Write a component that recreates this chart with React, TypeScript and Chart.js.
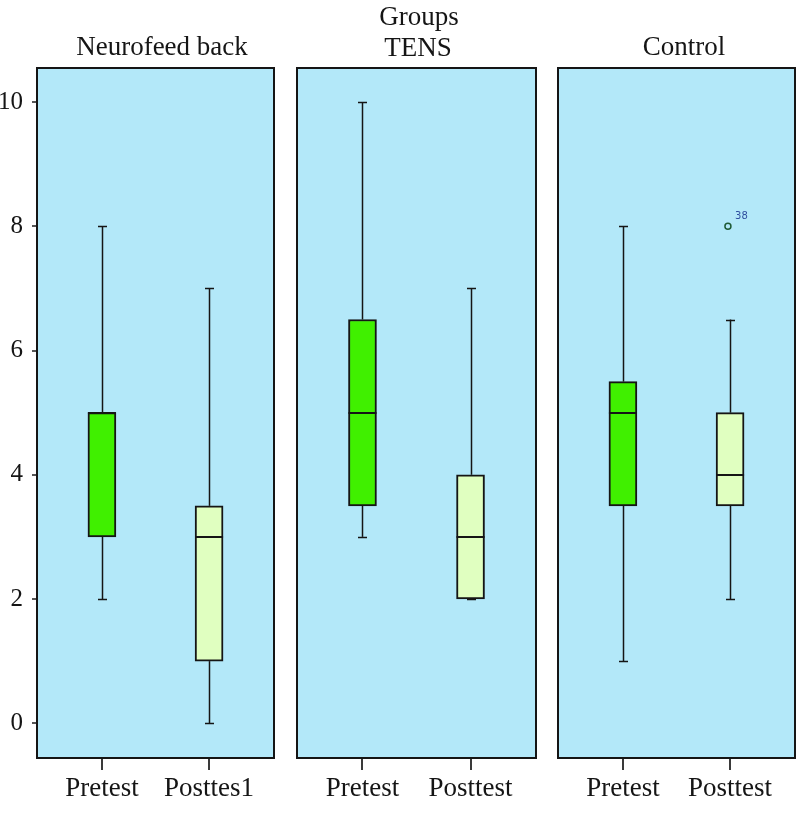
import React, { useEffect, useRef } from "react";
import { Chart, registerables } from "chart.js";
Chart.register(...registerables);

// ---- data ----
const superTitle = "Groups";
const groupTitles = ["Neurofeed back", "TENS", "Control"];
const conditionLabels = [
  ["Pretest", "Posttes1"],
  ["Pretest", "Posttest"],
  ["Pretest", "Posttest"],
];
const whiskerLow = [[2, 0], [3, 2], [1, 2]];
const q1 = [[3, 1], [3.5, 2], [3.5, 3.5]];
const medians = [[5, 3], [5, 3], [5, 4]];
const q3 = [[5, 3.5], [6.5, 4], [5.5, 5]];
const whiskerHigh = [[8, 7], [10, 7], [8, 6.5]];
const outlierGroup = [2];
const outlierCond = [1];
const outlierValue = [8];
const outlierLabel = ["38"];
const yTicks = [0, 2, 4, 6, 8, 10];

// ---- style ----
const FONT = "'Liberation Serif', 'Times New Roman', serif";
const BG = "#b3e8f9";
const BOX_COLORS = ["#40f000", "#e0ffc0"];
const INK = "#151515";

const panels = [
  { left: 0, width: 285, padL: 0, padR: 11, showY: true },
  { left: 285, width: 262, padL: 12, padR: 11, showY: false },
  { left: 547, width: 258, padL: 11, padR: 10, showY: false },
];

const boxPlugin = {
  id: "boxplot",
  beforeDraw(chart: any) {
    const { ctx, chartArea: a } = chart;
    ctx.save();
    ctx.fillStyle = BG;
    ctx.fillRect(a.left, a.top, a.right - a.left, a.bottom - a.top);
    ctx.restore();
  },
  beforeDatasetsDraw(chart: any) {
    const g = chart.options.plugins.boxplot.group;
    const { ctx, scales } = chart;
    const x = scales.x, y = scales.y;
    ctx.save();
    ctx.strokeStyle = INK;
    ctx.lineWidth = 1.5;
    for (let i = 0; i < 2; i++) {
      const cx = Math.round(x.getPixelForValue(i)) + 0.5;
      const segs = [
        [whiskerLow[g][i], q1[g][i]],
        [q3[g][i], whiskerHigh[g][i]],
      ];
      for (const [a, b] of segs) {
        if (a === b) continue;
        ctx.beginPath();
        ctx.moveTo(cx, y.getPixelForValue(a));
        ctx.lineTo(cx, y.getPixelForValue(b));
        ctx.stroke();
      }
      for (const v of [whiskerLow[g][i], whiskerHigh[g][i]]) {
        const py = Math.round(y.getPixelForValue(v)) + 0.5;
        ctx.beginPath();
        ctx.moveTo(cx - 4.5, py);
        ctx.lineTo(cx + 4.5, py);
        ctx.stroke();
      }
    }
    ctx.restore();
  },
  afterDatasetsDraw(chart: any) {
    const g = chart.options.plugins.boxplot.group;
    const { ctx, scales, chartArea: a } = chart;
    const x = scales.x, y = scales.y;
    ctx.save();
    ctx.strokeStyle = INK;
    ctx.lineWidth = 2;
    for (let i = 0; i < 2; i++) {
      const cx = x.getPixelForValue(i);
      const py = Math.round(y.getPixelForValue(medians[g][i]));
      ctx.beginPath();
      ctx.moveTo(cx - 14, py);
      ctx.lineTo(cx + 14, py);
      ctx.stroke();
    }
    // outlier labels
    ctx.fillStyle = "#2f4f9f";
    ctx.font = "10px 'DejaVu Sans', sans-serif";
    ctx.textAlign = "left";
    ctx.textBaseline = "middle";
    outlierGroup.forEach((og, k) => {
      if (og !== g) return;
      const px = x.getPixelForValue(outlierCond[k]);
      const py = y.getPixelForValue(outlierValue[k]);
      ctx.fillText(outlierLabel[k], px + 5, py - 10);
    });
    // frame
    ctx.strokeStyle = INK;
    ctx.lineWidth = 2;
    ctx.strokeRect(a.left, a.top, a.right - a.left, a.bottom - a.top);
    ctx.restore();
  },
};

function Panel({ g }: { g: number }) {
  const ref = useRef<HTMLCanvasElement | null>(null);
  const p = panels[g];
  useEffect(() => {
    if (!ref.current) return;
    const outliers = outlierGroup
      .map((og, k) => ({ og, k }))
      .filter((o) => o.og === g)
      .map((o) => ({ x: outlierCond[o.k] - 0.02, y: outlierValue[o.k] }));
    const chart = new Chart(ref.current, {
      type: "bar",
      data: {
        datasets: [
          {
            type: "bar",
            data: [0, 1].map((i) => ({ x: i, y: [q1[g][i], q3[g][i]] })) as any,
            backgroundColor: BOX_COLORS,
            borderColor: INK,
            borderWidth: 2,
            borderSkipped: false,
            barThickness: 28,
            grouped: false,
          } as any,
          {
            type: "scatter",
            data: outliers as any,
            pointStyle: "circle",
            pointRadius: 3,
            borderColor: "#1f5a35",
            backgroundColor: "rgba(0,0,0,0)",
            borderWidth: 1.5,
          } as any,
        ],
      },
      options: {
        animation: false,
        responsive: false,
        maintainAspectRatio: false,
        events: [],
        layout: { padding: { left: p.padL, right: p.padR, top: 68, bottom: 0 } },
        plugins: {
          legend: { display: false },
          tooltip: { enabled: false },
          title: { display: false },
          boxplot: { group: g },
        } as any,
        scales: {
          x: {
            type: "linear",
            min: -0.606,
            max: 1.606,
            offset: false,
            afterBuildTicks: (s: any) => {
              s.ticks = [{ value: 0 }, { value: 1 }];
            },
            afterFit: (s: any) => {
              s.height = 57;
            },
            ticks: {
              autoSkip: false,
              maxRotation: 0,
              padding: 3,
              color: INK,
              font: { family: FONT, size: 27 },
              callback: (v: any) => conditionLabels[g][Math.round(Number(v))],
            },
            grid: {
              offset: false,
              drawOnChartArea: false,
              drawTicks: true,
              tickLength: 12,
              color: "#3a3a3a",
              lineWidth: 2,
            },
            border: { display: false },
          },
          y: {
            type: "linear",
            display: p.showY,
            min: -0.56,
            max: 10.55,
            afterBuildTicks: (s: any) => {
              s.ticks = yTicks.map((v) => ({ value: v }));
            },
            afterFit: (s: any) => {
              s.width = p.showY ? 37 : 0;
            },
            ticks: {
              padding: 9,
              color: INK,
              font: { family: FONT, size: 25 },
            },
            grid: {
              drawOnChartArea: false,
              drawTicks: true,
              tickLength: 5,
              color: "#555",
              lineWidth: 2,
            },
            border: { display: false },
          },
        },
      } as any,
      plugins: [boxPlugin],
    });
    return () => chart.destroy();
  }, [g]);
  return (
    <div style={{ position: "absolute", left: p.left, top: 0, width: p.width, height: 815 }}>
      <canvas ref={ref} width={p.width} height={815} style={{ width: p.width, height: 815, display: "block" }} />
    </div>
  );
}

const titleStyle = (cx: number, top: number): React.CSSProperties => ({
  position: "absolute",
  left: cx - 150,
  width: 300,
  top,
  textAlign: "center",
  fontFamily: FONT,
  fontSize: 27,
  lineHeight: "30px",
  color: INK,
  whiteSpace: "nowrap",
});

export default function App() {
  return (
    <div style={{ position: "absolute", left: 0, top: 0, width: 805, height: 815, background: "#fff", overflow: "hidden" }}>
      {panels.map((_, g) => (
        <Panel key={g} g={g} />
      ))}
      <div style={titleStyle(419, 1)}>{superTitle}</div>
      <div style={titleStyle(162, 31)}>{groupTitles[0]}</div>
      <div style={titleStyle(418, 32)}>{groupTitles[1]}</div>
      <div style={titleStyle(684, 31)}>{groupTitles[2]}</div>
    </div>
  );
}
